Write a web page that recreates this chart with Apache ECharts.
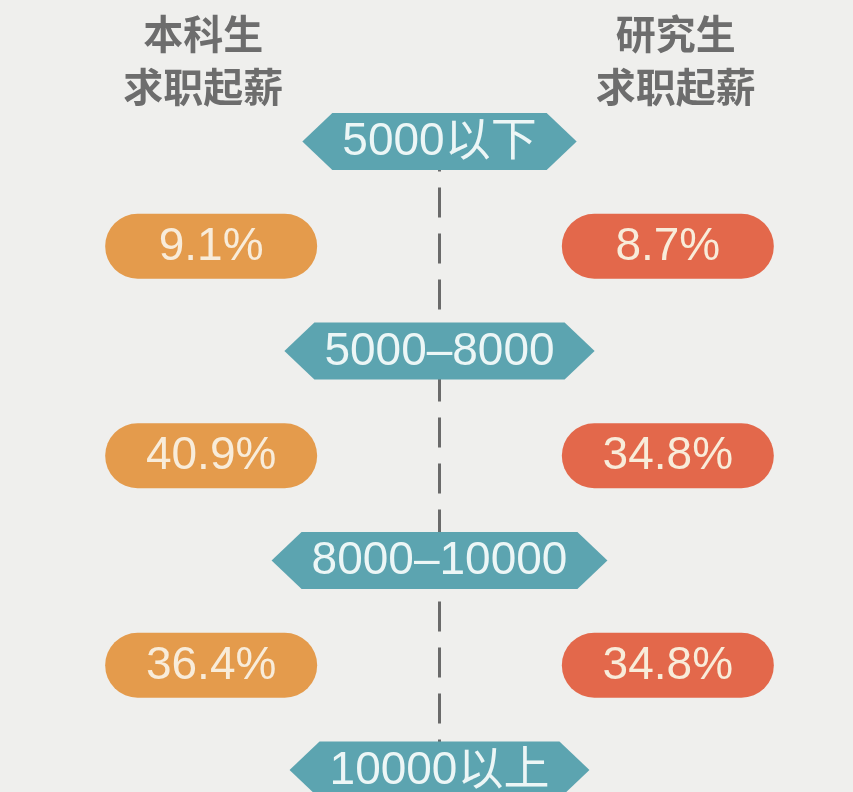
<!DOCTYPE html>
<html>
<head>
<meta charset="utf-8">
<script src="https://cdn.jsdelivr.net/npm/echarts@6/dist/echarts.min.js"></script>
<style>
html,body{margin:0;padding:0;background:#efefed;}
#chart{width:853px;height:792px;}
</style>
</head>
<body>
<div id="chart"></div>
<script>
// ---- data ----
const columns = ['本科生\n求职起薪', '月薪区间', '研究生\n求职起薪'];
const salaryRanges = ['5000以下', '5000–8000', '8000–10000', '10000以上'];
const undergradShare = [9.1, 40.9, 36.4];
const graduateShare = [8.7, 34.8, 34.8];

// ---- styling ----
const TEAL = '#5ca4b0';
const ORANGE = '#e49b4c';
const RED = '#e3684b';
const LABEL_FONT = '"Liberation Sans", Arial, "Noto Sans CJK SC", sans-serif';
const HEX_FS = 46;
const PILL_FS = 46;

const measureCtx = document.createElement('canvas').getContext('2d');
function textWidth(t, fs) {
  measureCtx.font = fs + 'px ' + LABEL_FONT;
  return measureCtx.measureText(t).width;
}

// build series data from the arrays (x = column index, y = row index)
const rangeData = salaryRanges.map((r, i) => [1, 2 * i, r]);
const underData = undergradShare.map((v, i) => [0, 2 * i + 1, v]);
const gradData = graduateShare.map((v, i) => [2, 2 * i + 1, v]);

function hexItem(params, api) {
  const p = api.coord([api.value(0), api.value(1)]);
  const label = salaryRanges[params.dataIndex];
  const w = textWidth(label, HEX_FS) + 80;
  const h = 57, tip = 30;
  const x0 = p[0] - w / 2, x1 = p[0] + w / 2;
  return {
    type: 'group',
    children: [
      { type: 'polygon',
        shape: { points: [[x0, p[1]], [x0 + tip, p[1] - h / 2], [x1 - tip, p[1] - h / 2],
                          [x1, p[1]], [x1 - tip, p[1] + h / 2], [x0 + tip, p[1] + h / 2]] },
        style: { fill: TEAL } },
      { type: 'text',
        style: { text: label, x: p[0], y: p[1] + 1, align: 'center', verticalAlign: 'middle',
                 fontSize: HEX_FS, fontFamily: LABEL_FONT, fill: '#ecf6f6' } }
    ]
  };
}

function pillRenderer(color) {
  return function (params, api) {
    const p = api.coord([api.value(0), api.value(1)]);
    const w = 212, h = 65;
    return {
      type: 'group',
      children: [
        { type: 'rect',
          shape: { x: p[0] - w / 2, y: p[1] - h / 2, width: w, height: h, r: h / 2 },
          style: { fill: color } },
        { type: 'text',
          style: { text: api.value(2).toFixed(1) + '%', x: p[0], y: p[1] + 1,
                   align: 'center', verticalAlign: 'middle',
                   fontSize: PILL_FS, fontFamily: LABEL_FONT, fill: '#f8ecda' } }
      ]
    };
  };
}

const chart = echarts.init(document.getElementById('chart'), null, { renderer: 'canvas' });
chart.setOption({
  backgroundColor: '#efefed',
  animation: false,
  grid: { left: 97, right: 71, top: 0, bottom: 0 },
  xAxis: {
    type: 'category',
    data: columns,
    position: 'top',
    axisLine: { show: false },
    axisTick: { show: false },
    splitLine: { show: false },
    axisLabel: {
      inside: true,
      margin: 7,
      formatter: function (v, i) {
        if (i === 1) return '';
        const tag = i === 0 ? 'l' : 'r';
        return v.split('\n').map(s => '{' + tag + '|' + s + '}').join('\n');
      },
      rich: {
        l: { fontSize: 40, lineHeight: 53, fontWeight: 'bold', color: '#6d6d6d',
             fontFamily: '"Noto Sans CJK SC"', padding: [0, 16, 0, 0] },
        r: { fontSize: 40, lineHeight: 53, fontWeight: 'bold', color: '#6d6d6d',
             fontFamily: '"Noto Sans CJK SC"', padding: [0, 0, 0, 16] }
      }
    }
  },
  yAxis: {
    type: 'value',
    inverse: true,
    min: -1.35,
    max: 6.21,
    show: false
  },
  series: [
    {
      type: 'line',
      data: [[1, 0], [1, 6.21]],
      symbol: 'none',
      silent: true,
      z: 1,
      lineStyle: { color: '#6a6a6a', width: 3, type: [30, 16], dashOffset: 0 }
    },
    {
      type: 'custom',
      data: rangeData,
      renderItem: hexItem,
      z: 3
    },
    {
      type: 'custom',
      name: '本科生',
      data: underData,
      renderItem: pillRenderer(ORANGE),
      z: 3
    },
    {
      type: 'custom',
      name: '研究生',
      data: gradData,
      renderItem: pillRenderer(RED),
      z: 3
    }
  ]
});
</script>
</body>
</html>
